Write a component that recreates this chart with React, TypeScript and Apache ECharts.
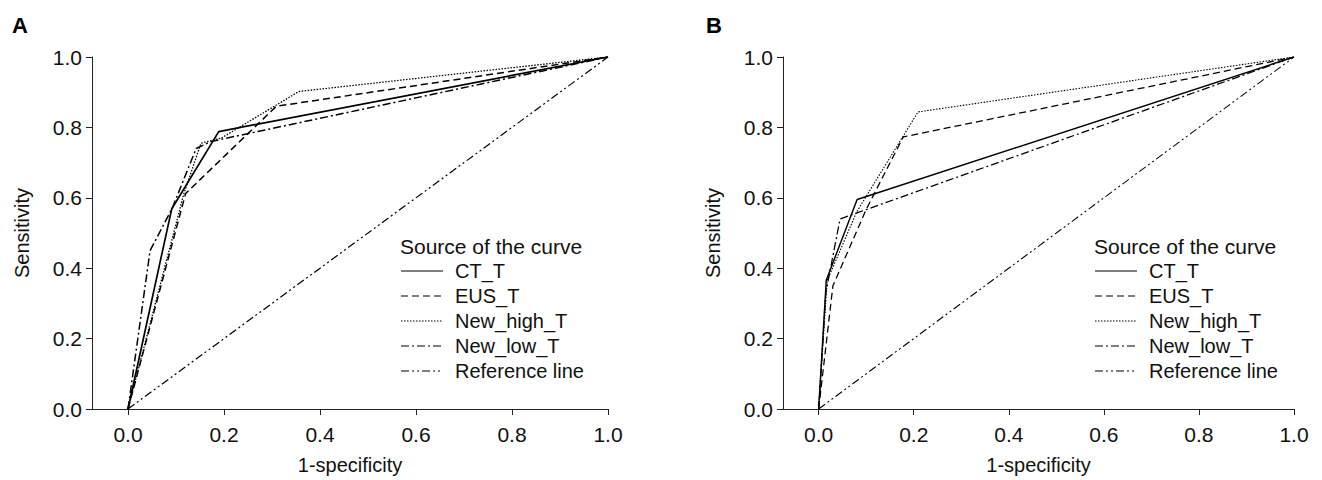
import React, { useEffect, useRef } from "react";
import * as echarts from "echarts";

// Panel A data: [1-specificity, sensitivity]
const ctA = [[0, 0], [0.091, 0.568], [0.189, 0.788], [1, 1]];
const eusA = [[0, 0], [0.12, 0.612], [0.309, 0.86], [1, 1]];
const highA = [[0, 0], [0.116, 0.61], [0.152, 0.755], [0.195, 0.77], [0.356, 0.902], [1, 1]];
const lowA = [[0, 0], [0.046, 0.45], [0.092, 0.57], [0.142, 0.74], [0.173, 0.76], [1, 1]];
// Panel B data
const ctB = [[0, 0], [0.016, 0.366], [0.081, 0.595], [1, 1]];
const eusB = [[0, 0], [0.03, 0.35], [0.1, 0.567], [0.178, 0.773], [1, 1]];
const highB = [[0, 0], [0.018, 0.365], [0.08, 0.56], [0.209, 0.844], [1, 1]];
const lowB = [[0, 0], [0.015, 0.33], [0.045, 0.54], [1, 1]];
const refLine = [[0, 0], [1, 1]];

const tickValues = [0, 0.2, 0.4, 0.6, 0.8, 1.0];
const seriesNames = ["CT_T", "EUS_T", "New_high_T", "New_low_T", "Reference line"];
const legendTitle = "Source of the curve";
const panelLabels = ["A", "B"];
const xName = "1-specificity";
const yName = "Sensitivity";

const FONT = "Liberation Sans, Arial, Helvetica, sans-serif";
const dashes: (number[] | "solid")[] = ["solid", [7, 4], [1.5, 1.5], [8, 3, 2, 3], [8, 3, 2, 3, 2, 3]];
const widths = [1.7, 1.5, 1.3, 1.5, 1.2];

export default function App() {
  const ref = useRef<HTMLDivElement>(null);
  useEffect(() => {
    document.body.style.margin = "0";
    const chart = echarts.init(ref.current!, null, { renderer: "svg" });
    const grids = [
      { left: 92, top: 57, width: 516, height: 352 },
      { left: 783, top: 57, width: 511, height: 352 },
    ];
    const axisCommon = {
      axisLine: { show: true, onZero: false, lineStyle: { color: "#222", width: 1 } },
      splitLine: { show: false },
    };
    const xAxis = grids.map((_, i) => ({
      type: "value",
      gridIndex: i,
      min: -0.075,
      max: 1.0,
      ...axisCommon,
      axisTick: { show: true, length: 6, customValues: tickValues, lineStyle: { color: "#222" } },
      axisLabel: {
        customValues: tickValues,
        formatter: (v: number) => v.toFixed(1),
        color: "#111",
        fontSize: 21,
        fontFamily: FONT,
        margin: 15,
      },
      name: xName,
      nameLocation: "middle",
      nameGap: 46,
      nameTextStyle: { color: "#111", fontSize: 20, fontFamily: FONT },
    }));
    const yAxis = grids.map((_, i) => ({
      type: "value",
      gridIndex: i,
      min: 0,
      max: 1,
      interval: 0.2,
      ...axisCommon,
      axisTick: { show: true, length: 6, lineStyle: { color: "#222" } },
      axisLabel: {
        formatter: (v: number) => v.toFixed(1),
        color: "#111",
        fontSize: 21,
        fontFamily: FONT,
        margin: 10,
      },
      name: yName,
      nameLocation: "middle",
      nameGap: 60,
      nameRotate: 90,
      nameTextStyle: { color: "#111", fontSize: 20, fontFamily: FONT },
    }));
    const panelData = [
      [ctA, eusA, highA, lowA, refLine],
      [ctB, eusB, highB, lowB, refLine],
    ];
    const series: any[] = [];
    panelData.forEach((arr, p) => {
      arr.forEach((d, k) => {
        series.push({
          type: "line",
          name: seriesNames[k],
          xAxisIndex: p,
          yAxisIndex: p,
          data: d,
          symbol: "none",
          silent: true,
          lineStyle: { color: "#000", width: p === 0 ? widths[k] : widths[k] * 0.85, type: dashes[k] },
        });
      });
    });
    const graphic: any[] = [];
    const legendX = [400, 1094];
    panelLabels.forEach((lab, p) => {
      graphic.push({
        type: "text",
        left: p === 0 ? 12 : 706,
        top: 14,
        style: { text: lab, fontSize: 22, fontWeight: "bold", fontFamily: FONT, fill: "#000" },
      });
      const lx = legendX[p];
      graphic.push({
        type: "text",
        x: lx,
        y: 246,
        style: { text: legendTitle, fontSize: 21, fontFamily: FONT, fill: "#111", verticalAlign: "middle" },
      });
      seriesNames.forEach((n, k) => {
        const y = 271 + k * 25;
        graphic.push({
          type: "line",
          shape: { x1: lx + 1, y1: y, x2: lx + 43, y2: y },
          style: {
            stroke: "#000",
            lineWidth: 1.2,
            lineDash: dashes[k] === "solid" ? null : dashes[k],
          },
        });
        graphic.push({
          type: "text",
          x: lx + 55,
          y: y,
          style: { text: n, fontSize: 20, fontFamily: FONT, fill: "#111", verticalAlign: "middle" },
        });
      });
    });
    chart.setOption({
      animation: false,
      backgroundColor: "#fff",
      grid: grids,
      xAxis,
      yAxis,
      series,
      graphic,
    });
    return () => chart.dispose();
  }, []);
  return <div ref={ref} style={{ width: 1322, height: 480 }} />;
}
